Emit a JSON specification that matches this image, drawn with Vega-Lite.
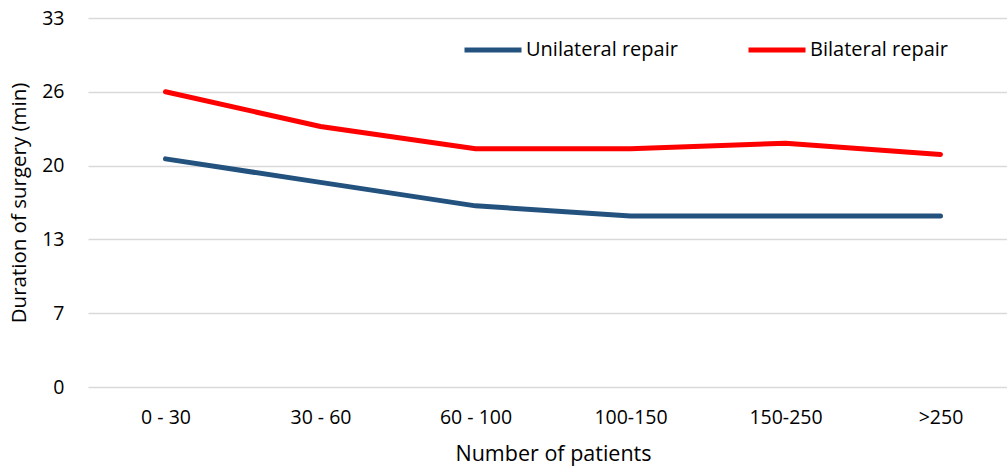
{
  "$schema": "https://vega.github.io/schema/vega-lite/v6.json",
  "width": 930,
  "height": 369,
  "autosize": {"type": "none"},
  "padding": {"left": 88, "top": 18, "right": -11, "bottom": 85},
  "background": "white",
  "config": {
    "view": {"stroke": null},
    "font": "Open Sans",
    "axis": {"labelFont": "Open Sans", "titleFont": "Open Sans", "labelColor": "#000000", "titleColor": "#000000", "titleFontWeight": "normal"}
  },
  "data": {
    "values": [
      {"patients": "0 - 30", "series": "Unilateral repair", "duration": 20.4},
      {"patients": "30 - 60", "series": "Unilateral repair", "duration": 18.3},
      {"patients": "60 - 100", "series": "Unilateral repair", "duration": 16.2},
      {"patients": "100-150", "series": "Unilateral repair", "duration": 15.3},
      {"patients": "150-250", "series": "Unilateral repair", "duration": 15.3},
      {"patients": ">250", "series": "Unilateral repair", "duration": 15.3},
      {"patients": "0 - 30", "series": "Bilateral repair", "duration": 26.4},
      {"patients": "30 - 60", "series": "Bilateral repair", "duration": 23.3},
      {"patients": "60 - 100", "series": "Bilateral repair", "duration": 21.3},
      {"patients": "100-150", "series": "Bilateral repair", "duration": 21.3},
      {"patients": "150-250", "series": "Bilateral repair", "duration": 21.8},
      {"patients": ">250", "series": "Bilateral repair", "duration": 20.8}
    ]
  },
  "mark": {"type": "line", "strokeWidth": 5, "strokeCap": "round"},
  "encoding": {
    "x": {
      "field": "patients",
      "type": "ordinal",
      "sort": ["0 - 30", "30 - 60", "60 - 100", "100-150", "150-250", ">250"],
      "scale": {"type": "point", "padding": 0.5},
      "axis": {
        "title": "Number of patients",
        "labelAngle": 0,
        "labelFontSize": 19.5,
        "titleFontSize": 21.5,
        "ticks": false,
        "domain": false,
        "grid": false,
        "labelPadding": 21,
        "titlePadding": 17
      }
    },
    "y": {
      "field": "duration",
      "type": "quantitative",
      "scale": {"domain": [0, 33], "nice": false},
      "axis": {
        "title": "Duration of surgery (min)",
        "values": [0, 6.6, 13.2, 19.8, 26.4, 33],
        "labelExpr": "format(round(datum.value), 'd')",
        "labelFontSize": 19.5,
        "titleFontSize": 20.5,
        "ticks": false,
        "domain": false,
        "grid": true,
        "gridColor": "#D9D9D9",
        "gridWidth": 1.5,
        "labelPadding": 24,
        "titlePadding": 12
      }
    },
    "color": {
      "field": "series",
      "type": "nominal",
      "scale": {"domain": ["Unilateral repair", "Bilateral repair"], "range": ["#24527F", "#FF0000"]},
      "legend": {
        "title": null,
        "orient": "none",
        "legendX": 374,
        "legendY": 1,
        "direction": "horizontal",
        "symbolType": "stroke",
        "symbolSize": 3249,
        "symbolStrokeWidth": 5,
        "labelFontSize": 20,
        "labelFont": "Open Sans",
        "labelColor": "#000000",
        "labelOffset": 2,
        "columnPadding": 60
      }
    }
  }
}
